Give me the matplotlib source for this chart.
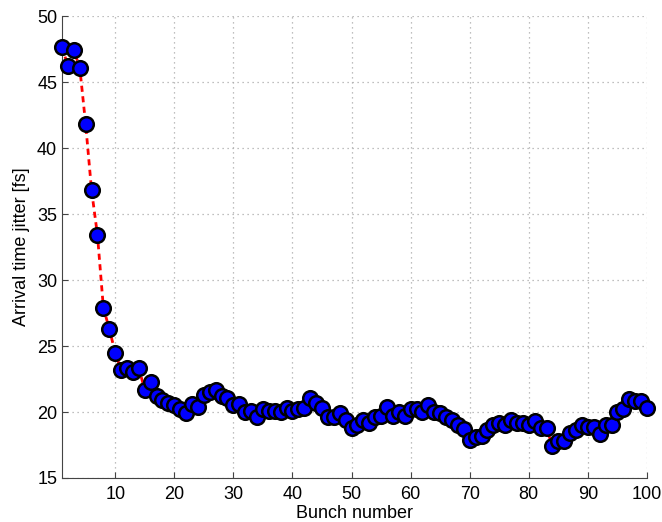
import matplotlib
matplotlib.use("Agg")
import matplotlib.pyplot as plt

plt.rcParams['font.family'] = ['Liberation Sans', 'DejaVu Sans']

bunch = list(range(1, 101))
jitter = [47.7, 46.2, 47.4, 46.1, 41.8, 36.8, 33.4, 27.9, 26.3, 24.5,
          23.2, 23.3, 23.0, 23.3, 21.7, 22.3, 21.2, 20.9, 20.7, 20.5,
          20.2, 19.9, 20.6, 20.4, 21.3, 21.5, 21.7, 21.2, 21.1, 20.5,
          20.6, 20.0, 20.1, 19.6, 20.2, 20.1, 20.1, 20.0, 20.3, 20.1,
          20.2, 20.3, 21.1, 20.7, 20.3, 19.6, 19.6, 19.9, 19.4, 18.8,
          19.0, 19.4, 19.2, 19.6, 19.7, 20.4, 19.7, 20.0, 19.7, 20.2,
          20.2, 20.0, 20.5, 20.0, 19.9, 19.6, 19.4, 19.0, 18.7, 17.9,
          18.1, 18.2, 18.6, 19.0, 19.2, 19.0, 19.4, 19.2, 19.2, 19.0,
          19.3, 18.8, 18.8, 17.4, 17.8, 17.8, 18.4, 18.6, 19.0, 18.9,
          18.9, 18.3, 19.0, 19.0, 20.0, 20.2, 21.0, 20.8, 20.8, 20.3]

fig = plt.figure(figsize=(6.62, 5.22), dpi=100)
ax = fig.add_axes([0.0937, 0.0843, 0.8836, 0.8847])

ax.plot(bunch, jitter, color='red', linewidth=2, dashes=(2.2, 1.6), zorder=2)
ax.plot(bunch, jitter, 'o', markersize=10.5, markerfacecolor='#0000ff',
        markeredgecolor='black', markeredgewidth=1.8, linestyle='none',
        zorder=3, clip_on=False)

ax.set_xlim(1, 100)
ax.set_ylim(15, 50)
ax.set_xticks(range(10, 101, 10))
ax.set_yticks(range(15, 51, 5))
ax.grid(True, linestyle=(0, (1, 3)), color='#aaaaaa', linewidth=0.9)
ax.set_axisbelow(True)
ax.tick_params(direction='in', labelsize=13, color='#444444', length=4)
ax.tick_params(axis='x', pad=6)
for s in ['top', 'right']:
    ax.spines[s].set_visible(False)
for s in ['left', 'bottom']:
    ax.spines[s].set_color('#444444')

ax.set_xlabel('Bunch number', fontsize=13, labelpad=1)
ax.set_ylabel('Arrival time jitter [fs]', fontsize=13, labelpad=5)

fig.savefig('out.png', dpi=100)
